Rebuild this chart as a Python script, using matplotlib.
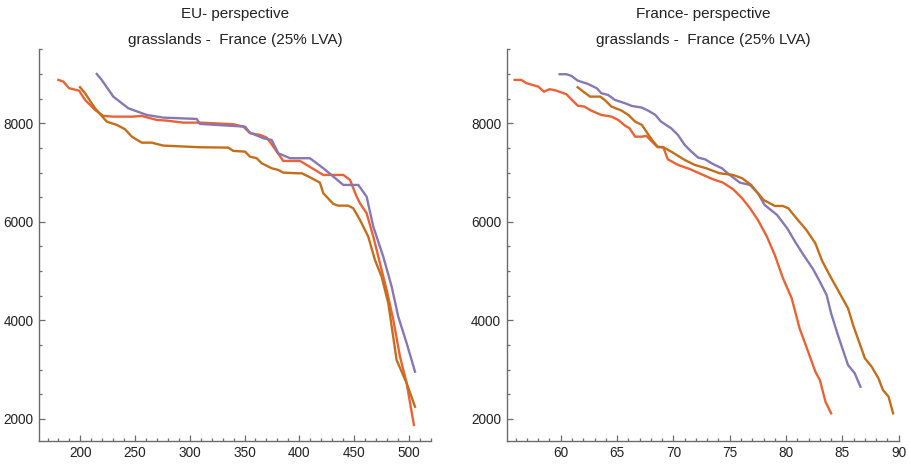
import matplotlib
matplotlib.use("Agg")
import matplotlib.pyplot as plt
from matplotlib.ticker import MultipleLocator

plt.rcParams['font.family'] = ['Liberation Sans', 'DejaVu Sans']

# colours (Mathematica-like default palette)
red = "#EB6235"
purple = "#8778B3"
brown = "#C56E1A"

# ---- EU perspective (left) ----
eu_red_x = [179.9, 184.5, 189.7, 198.8, 204.3, 213.4, 221, 230, 248, 256, 269.8, 278.9, 294, 309.3,
            339.8, 349, 355, 364.2, 370.3, 376.3, 385.4, 400.7, 422, 440.3, 446.4, 452.5, 455.5,
            461.6, 467.7, 473.8, 479.9, 486, 492.1, 498.2, 504.8]
eu_red_y = [8879, 8844, 8710, 8662, 8473, 8270, 8148, 8134, 8134, 8148, 8067, 8053, 8012, 8012,
            7980, 7931, 7797, 7763, 7708, 7525, 7235, 7235, 6951, 6951, 6850, 6510, 6377,
            6174, 5699, 5159, 4617, 4009, 3264, 2724, 1878]

eu_purple_x = [215, 219.5, 230.1, 243.8, 260.7, 275.8, 291, 306.3, 309.3, 339.8, 350.5, 355, 367.2,
               374.8, 380.9, 391.6, 409.8, 422, 440.3, 454, 461.6, 467.7, 476.8, 484.5, 490.5,
               498.2, 505.8]
eu_purple_y = [9000, 8879, 8540, 8304, 8168, 8114, 8101, 8087, 7986, 7945, 7931, 7809, 7696,
               7661, 7391, 7290, 7290, 7087, 6748, 6748, 6510, 5902, 5293, 4684, 4076,
               3535, 2960]

eu_brown_x = [199.7, 204.3, 213.4, 224.1, 233.3, 240.8, 247, 256.1, 265.2, 275.8, 309.3, 335.2,
              339.8, 350.5, 355, 361.1, 365.7, 374.8, 380.9, 385.4, 397.7, 402.3, 409.8, 418.9,
              422, 431.1, 435.7, 444.8, 449.4, 455.5, 463.1, 469.2, 475.3, 481.4, 489, 498.2,
              505.8]
eu_brown_y = [8730, 8609, 8304, 8033, 7966, 7878, 7728, 7606, 7606, 7546, 7513, 7505,
              7438, 7424, 7322, 7290, 7188, 7087, 7052, 6998, 6985, 6985, 6904, 6795,
              6580, 6363, 6328, 6328, 6275, 6038, 5699, 5226, 4887, 4347, 3197, 2724,
              2249]

# ---- France perspective (right) ----
fr_red_x = [55.9, 56.5, 56.95, 58.0, 58.5, 59.0, 59.6, 60.5, 61.5, 62.1, 62.7, 63.6, 64.5, 65.1,
            65.7, 66.1, 66.6, 67.2, 67.6, 68.1, 68.6, 69.1, 69.5, 70.4, 71.4, 72.3, 73.5,
            74.4, 75.3, 76.1, 76.8, 77.5, 78.3, 79.0, 79.7, 80.5, 81.2, 81.8, 82.6, 83.0,
            83.5, 84.0]
fr_red_y = [8879, 8879, 8812, 8743, 8641, 8690, 8662, 8588, 8357, 8337, 8256, 8168, 8134, 8067,
            7952, 7898, 7728, 7728, 7742, 7627, 7513, 7513, 7269, 7154, 7075, 6985, 6864,
            6795, 6661, 6478, 6275, 6038, 5699, 5327, 4871, 4449, 3840, 3467, 2960, 2791,
            2351, 2115]

fr_purple_x = [59.9, 60.5, 60.95, 61.5, 62.4, 63.2, 63.6, 64.2, 64.8, 65.7, 66.3, 67.2, 67.8,
               68.4, 68.9, 69.8, 70.4, 71.0, 71.6, 72.2, 72.8, 73.5, 74.3, 75.0, 75.9, 76.8,
               77.5, 78.1, 79.2, 80.1, 80.8, 81.5, 82.4, 83.0, 83.6, 84.0, 84.6, 85.5, 86.1,
               86.6]
fr_purple_y = [8994, 8994, 8960, 8865, 8798, 8710, 8609, 8574, 8473, 8406, 8351, 8317, 8250,
               8168, 8033, 7898, 7763, 7560, 7424, 7302, 7269, 7174, 7087, 6951, 6795, 6748,
               6580, 6342, 6139, 5869, 5598, 5345, 5040, 4786, 4516, 4144, 3704, 3095, 2927,
               2655]

fr_brown_x = [61.5, 62.0, 62.6, 63.5, 63.9, 64.5, 65.4, 66.0, 66.6, 67.2, 67.6, 68.1, 68.6, 69.1,
              69.8, 71.0, 71.9, 72.9, 74.1, 75.3, 76.1, 76.9, 78.0, 79.0, 79.7, 80.2, 80.8,
              81.8, 82.6, 83.2, 83.9, 84.6, 85.5, 86.0, 87.0, 87.6, 88.2, 88.6, 89.1, 89.5]
fr_brown_y = [8730, 8641, 8540, 8540, 8473, 8337, 8256, 8168, 8033, 7966, 7830, 7661, 7525, 7513,
              7424, 7255, 7154, 7087, 6985, 6951, 6884, 6748, 6444, 6322, 6322, 6275, 6105,
              5835, 5565, 5209, 4904, 4617, 4246, 3873, 3231, 3061, 2825, 2588, 2453, 2115]

title_top = ["EU- perspective", "France- perspective"]
title_sub = "grasslands -  France (25% LVA)"

fig = plt.figure(figsize=(9.1, 4.65), dpi=100)
ax1 = fig.add_axes([0.0432, 0.0523, 0.4304, 0.8417])
ax2 = fig.add_axes([0.5568, 0.0523, 0.4314, 0.8417])

lw = 1.7
ax1.plot(eu_red_x, eu_red_y, color=red, lw=lw)
ax1.plot(eu_purple_x, eu_purple_y, color=purple, lw=lw)
ax1.plot(eu_brown_x, eu_brown_y, color=brown, lw=lw)

ax2.plot(fr_red_x, fr_red_y, color=red, lw=lw)
ax2.plot(fr_purple_x, fr_purple_y, color=purple, lw=lw)
ax2.plot(fr_brown_x, fr_brown_y, color=brown, lw=lw)

ax1.set_xlim(162.5, 520.4)
ax2.set_xlim(55.2, 90.05)
ax1.xaxis.set_major_locator(MultipleLocator(50))
ax1.xaxis.set_minor_locator(MultipleLocator(10))
ax2.xaxis.set_major_locator(MultipleLocator(5))
ax2.xaxis.set_minor_locator(MultipleLocator(1))

for i, ax in enumerate([ax1, ax2]):
    ax.set_ylim(1560, 9500)
    ax.yaxis.set_major_locator(MultipleLocator(2000))
    ax.yaxis.set_minor_locator(MultipleLocator(500))
    for s in ["top", "right"]:
        ax.spines[s].set_visible(False)
    for s in ["left", "bottom"]:
        ax.spines[s].set_color("#6b6b6b")
        ax.spines[s].set_linewidth(1.0)
    ax.tick_params(which="both", direction="in", color="#6b6b6b", labelsize=9.8,
                   labelcolor="#222222", width=0.9)
    ax.tick_params(which="major", length=4.5, pad=4)
    ax.tick_params(which="minor", length=2.5)
    ax.text(0.5, 1.090, title_top[i], transform=ax.transAxes, ha="center", va="center",
            fontsize=11, color="#222222")
    ax.text(0.5, 1.024, title_sub, transform=ax.transAxes, ha="center", va="center",
            fontsize=11, color="#222222")

fig.savefig("out.png", dpi=100)
